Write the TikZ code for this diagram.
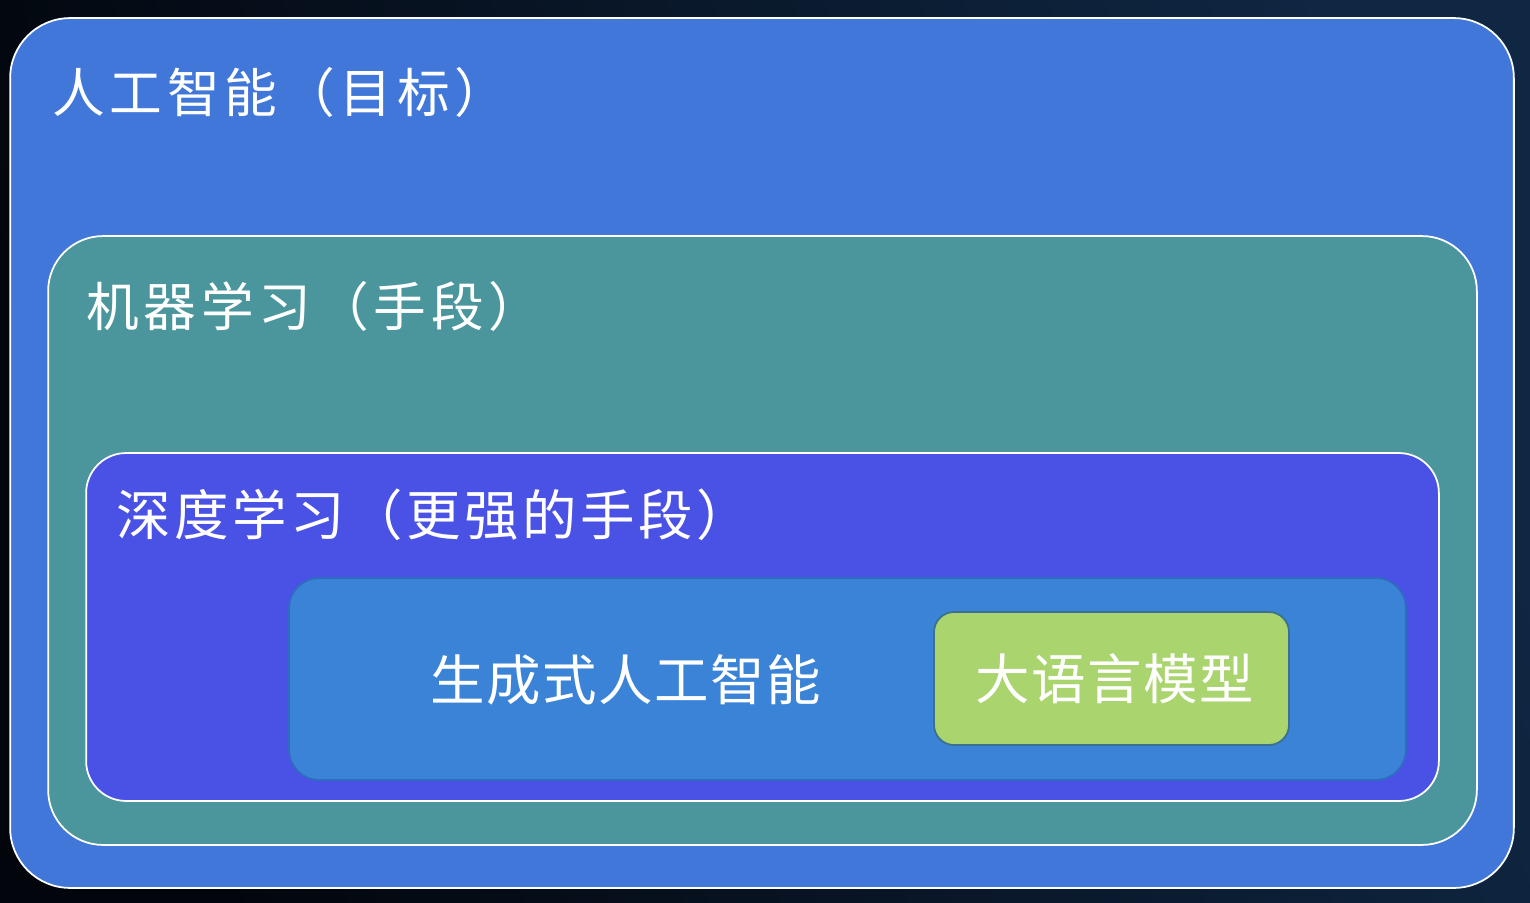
\documentclass[tikz,border=0pt]{standalone}
\usepackage{fontspec}
\newfontfamily\cjkA[LetterSpace=9]{Noto Sans CJK SC}
\newfontfamily\cjkB[LetterSpace=6.5]{Noto Sans CJK SC}
\newfontfamily\cjkC[LetterSpace=3]{Noto Sans CJK SC}
\definecolor{bgA}{HTML}{02050B}
\definecolor{bgB}{HTML}{0F2743}
\definecolor{aiblue}{HTML}{4177D9}
\definecolor{mlteal}{HTML}{4A969C}
\definecolor{dlviolet}{HTML}{4A52E6}
\definecolor{genblue}{HTML}{3A83D6}
\definecolor{genedge}{HTML}{2F6CC0}
\definecolor{llmgreen}{HTML}{A9D46E}
\definecolor{llmedge}{HTML}{3D6F8E}
\tikzset{
  layer/.style={rectangle, draw=white, line width=1pt, inner sep=0pt, outer sep=0pt},
  label/.style={anchor=west, text=white, inner sep=0pt, font=\cjkA\fontsize{30}{36}\selectfont},
  labelb/.style={anchor=west, text=white, inner sep=0pt, font=\cjkB\fontsize{31}{36}\selectfont},
  labelg/.style={anchor=west, text=white, inner sep=0pt, font=\cjkC\fontsize{31}{36}\selectfont},
  labelc/.style={anchor=center, text=white, inner sep=0pt, font=\cjkC\fontsize{31}{36}\selectfont}
}
\begin{document}
\begin{tikzpicture}[x=0.02cm,y=-0.02cm]
\useasboundingbox (0,0) rectangle (1530,902);
\shade[shading=axis, left color=bgA, right color=bgB, shading angle=110] (0,0) rectangle (1530,902);
\node[layer, fill=aiblue, rounded corners=1.2cm, minimum width=30.08cm, minimum height=17.4cm] (ai) at (762,453) {};
\node[layer, fill=mlteal, rounded corners=1.1cm, minimum width=28.58cm, minimum height=12.18cm] (ml) at (762.5,540.5) {};
\node[layer, fill=dlviolet, rounded corners=0.8cm, minimum width=27.06cm, minimum height=6.96cm] (dl) at (762.5,627) {};
\node[layer, draw=genedge, fill=genblue, rounded corners=0.6cm, minimum width=22.34cm, minimum height=4.04cm] (gen) at (847.5,679) {};
\node[layer, draw=llmedge, fill=llmgreen, rounded corners=0.4cm, minimum width=7.1cm, minimum height=2.66cm] (llm) at (1111.5,678.5) {};
\node[label] (tai) at (52,92) {人工智能（目标）};
\node[label] (tml) at (86,306) {机器学习（手段）};
\node[labelb] (tdl) at (116,515) {深度学习（更强的手段）};
\node[labelg] (tgen) at (430,680) {生成式人工智能};
\node[labelc] (tllm) at ([xshift=2]llm.center) {大语言模型};
\end{tikzpicture}
\end{document}
